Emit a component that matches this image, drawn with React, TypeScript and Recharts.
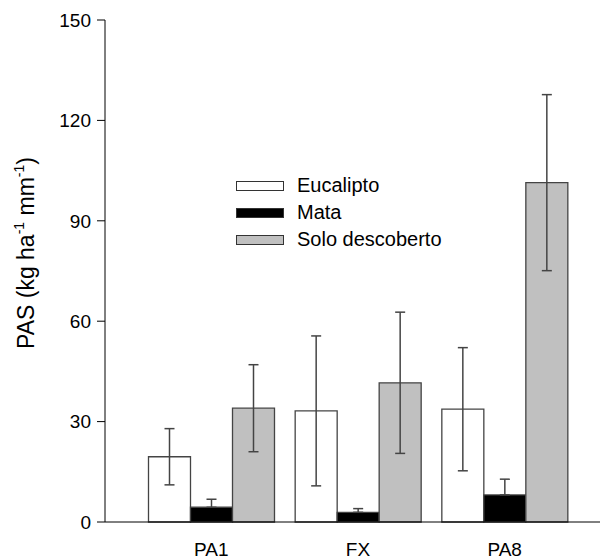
import React from "react";
import { Bar, BarChart, ErrorBar, Legend, XAxis, YAxis } from "recharts";

const categories = ["PA1", "FX", "PA8"];
const seriesNames = ["Eucalipto", "Mata", "Solo descoberto"];

const eucalipto = [19.5, 33.2, 33.7];
const eucaliptoErr = [8.4, 22.4, 18.4];
const mata = [4.4, 2.9, 8.1];
const mataErr = [2.4, 1.1, 4.7];
const solo = [34.0, 41.6, 101.4];
const soloErr = [13.0, 21.1, 26.3];

const yTicks = [0, 30, 60, 90, 120, 150];

const fills = ["#ffffff", "#000000", "#c0c0c0"];
const FONT = "'Liberation Sans', Arial, Helvetica, sans-serif";

// rows for the chart; the lower whisker of Mata sits inside the black bar, so only the upper part shows
const chartData = categories.map((name, i) => ({
  name,
  eucalipto: eucalipto[i],
  eucaliptoErr: eucaliptoErr[i],
  mata: mata[i],
  mataErr: [0, mataErr[i]],
  solo: solo[i],
  soloErr: soloErr[i],
}));

function YLabel(props: any) {
  const vb = props.viewBox || { x: 0, y: 20, width: 105, height: 502 };
  const cx = vb.x + 34;
  const cy = vb.y + vb.height / 2 - 18;
  return (
    <text
      x={cx}
      y={cy}
      transform={`rotate(-90, ${cx}, ${cy})`}
      textAnchor="middle"
      fontSize={23}
      fill="#000"
      fontFamily={FONT}
    >
      PAS (kg ha
      <tspan fontSize={14} dy={-10}>-1</tspan>
      <tspan dy={10}> mm</tspan>
      <tspan fontSize={14} dy={-10}>-1</tspan>
      <tspan dy={10}>)</tspan>
    </text>
  );
}

function LegendBox() {
  return (
    <div style={{ fontFamily: FONT, fontSize: 20, color: "#000" }}>
      {seriesNames.map((label, i) => (
        <div key={label} style={{ display: "flex", alignItems: "center", height: 27 }}>
          <span
            style={{
              display: "inline-block",
              width: 48,
              height: 10,
              background: fills[i],
              border: "1px solid #333",
              boxSizing: "border-box",
              marginRight: 13,
            }}
          />
          <span>{label}</span>
        </div>
      ))}
    </div>
  );
}

export default function App() {
  return (
    <div style={{ position: "absolute", left: 0, top: 0, background: "#fff", fontFamily: FONT }}>
      <BarChart
        width={600}
        height={559}
        data={chartData}
        margin={{ top: 20, right: 0, bottom: 0, left: 0 }}
        barCategoryGap={10.5}
        barGap={0}
      >
        <XAxis
          dataKey="name"
          height={37}
          padding={{ left: 33, right: 22 }}
          stroke="#000"
          tickLine={false}
          tickSize={0}
          tickMargin={21}
          tick={{ fontSize: 19, fill: "#000", fontFamily: FONT }}
        />
        <YAxis
          width={105}
          domain={[0, 150]}
          ticks={yTicks}
          interval={0}
          stroke="#000"
          tickSize={8}
          tickMargin={6}
          tick={{ fontSize: 19, fill: "#000", fontFamily: FONT }}
          label={<YLabel />}
        />
        <Legend
          layout="vertical"
          align="center"
          verticalAlign="middle"
          content={<LegendBox />}
          wrapperStyle={{ left: 236, top: 172, width: "auto" }}
        />
        <Bar dataKey="eucalipto" name="Eucalipto" fill={fills[0]} stroke="#444" strokeWidth={1.3} isAnimationActive={false}>
          <ErrorBar dataKey="eucaliptoErr" width={5} stroke="#444" strokeWidth={1.5} direction="y" />
        </Bar>
        <Bar dataKey="mata" name="Mata" fill={fills[1]} stroke="#444" strokeWidth={1.3} isAnimationActive={false}>
          <ErrorBar dataKey="mataErr" width={5} stroke="#444" strokeWidth={1.5} direction="y" />
        </Bar>
        <Bar dataKey="solo" name="Solo descoberto" fill={fills[2]} stroke="#444" strokeWidth={1.3} isAnimationActive={false}>
          <ErrorBar dataKey="soloErr" width={5} stroke="#444" strokeWidth={1.5} direction="y" />
        </Bar>
      </BarChart>
    </div>
  );
}
